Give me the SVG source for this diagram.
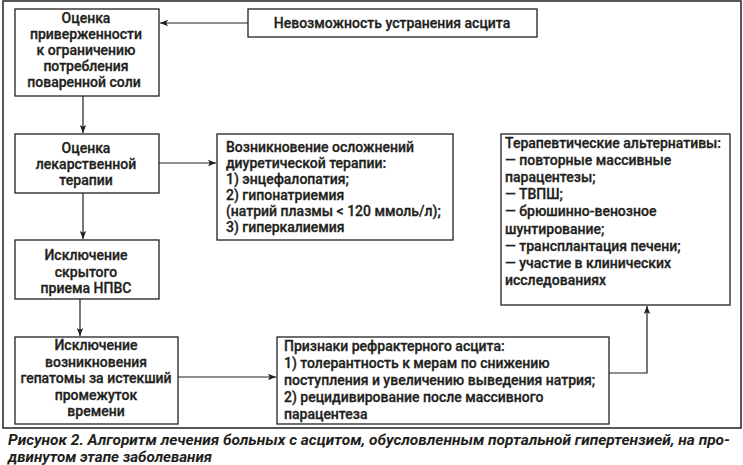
<svg xmlns="http://www.w3.org/2000/svg" width="743" height="465" viewBox="0 0 743 465">
<style>
.box{fill:#fff;stroke:#231f20;stroke-width:1.3}
.t{font-family:Roboto,"Liberation Sans",sans-serif;font-weight:500;font-size:14px;fill:#231f20;stroke:#231f20;stroke-width:0.3}
.c{text-anchor:middle}
.ln{fill:none;stroke:#231f20;stroke-width:1.2}
.cap{font-family:Roboto,"Liberation Sans",sans-serif;font-weight:700;font-style:italic;font-size:14px;fill:#231f20}
</style>
<defs>
<marker id="ah" viewBox="0 0 8 8" refX="8" refY="4" markerWidth="8" markerHeight="8" markerUnits="userSpaceOnUse" orient="auto">
<path d="M0,0.8 L8,4 L0,7.2 L1.8,4 Z" fill="#231f20"/>
</marker>
</defs>
<rect x="3" y="1" width="738" height="427" fill="#fff" stroke="#231f20" stroke-width="1.5"/>
<g id="connectors">
<path class="ln" d="M248,23 H160" marker-end="url(#ah)"/>
<path class="ln" d="M83,96 V133" marker-end="url(#ah)"/>
<path class="ln" d="M159,163 H216" marker-end="url(#ah)"/>
<path class="ln" d="M83,193 V239" marker-end="url(#ah)"/>
<path class="ln" d="M80,299 V336" marker-end="url(#ah)"/>
<path class="ln" d="M178,377 H276" marker-end="url(#ah)"/>
<path class="ln" d="M609,373 H647 V306" marker-end="url(#ah)"/>
</g>
<g id="n-nevozm">
<rect class="box" x="248" y="9" width="289" height="28"/>
<text class="t c" x="392" y="28">Невозможность устранения асцита</text>
</g>
<g id="n-ocenka1">
<rect class="box" x="15" y="9" width="144" height="87"/>
<text class="t c" x="86" y="23">Оценка</text>
<text class="t c" x="86" y="39">приверженности</text>
<text class="t c" x="86" y="55">к ограничению</text>
<text class="t c" x="86" y="71">потребления</text>
<text class="t c" x="84" y="87">поваренной соли</text>
</g>
<g id="n-ocenka2">
<rect class="box" x="15" y="134" width="144" height="59"/>
<text class="t c" x="86" y="153">Оценка</text>
<text class="t c" x="86" y="169">лекарственной</text>
<text class="t c" x="86" y="185">терапии</text>
</g>
<g id="n-oslozh">
<rect class="box" x="217" y="134" width="236" height="106"/>
<text class="t" x="226" y="152">Возникновение осложнений</text>
<text class="t" x="226" y="168">диуретической терапии:</text>
<text class="t" x="226" y="184">1) энцефалопатия;</text>
<text class="t" x="226" y="200">2) гипонатриемия</text>
<text class="t" x="226" y="216">(натрий плазмы &lt; 120 ммоль/л);</text>
<text class="t" x="226" y="232">3) гиперкалиемия</text>
</g>
<g id="n-nsaid">
<rect class="box" x="15" y="240" width="144" height="59"/>
<text class="t c" x="86" y="260">Исключение</text>
<text class="t c" x="86" y="276.5">скрытого</text>
<text class="t c" x="86" y="293">приема НПВС</text>
</g>
<g id="n-hepatoma">
<rect class="box" x="15" y="337" width="163" height="87"/>
<text class="t c" x="96" y="350">Исключение</text>
<text class="t c" x="96" y="366.5">возникновения</text>
<text class="t c" x="96" y="383">гепатомы за истекший</text>
<text class="t c" x="96" y="399.5">промежуток</text>
<text class="t c" x="96" y="416">времени</text>
</g>
<g id="n-refr">
<rect class="box" x="277" y="337" width="332" height="87"/>
<text class="t" x="284" y="351">Признаки рефрактерного асцита:</text>
<text class="t" x="284" y="368">1) толерантность к мерам по снижению</text>
<text class="t" x="284" y="385">поступления и увеличению выведения натрия;</text>
<text class="t" x="284" y="402">2) рецидивирование после массивного</text>
<text class="t" x="284" y="419">парацентеза</text>
</g>
<g id="n-alt">
<rect class="box" x="501" y="134" width="229" height="171"/>
<text class="t" x="505" y="147.5">Терапевтические альтернативы:</text>
<text class="t" x="505" y="164.7">—  повторные массивные</text>
<text class="t" x="505" y="181.9">парацентезы;</text>
<text class="t" x="505" y="199.1">—  ТВПШ;</text>
<text class="t" x="505" y="216.3">—  брюшинно-венозное</text>
<text class="t" x="505" y="233.5">шунтирование;</text>
<text class="t" x="505" y="250.7">—  трансплантация печени;</text>
<text class="t" x="505" y="267.9">—  участие в клинических</text>
<text class="t" x="505" y="285.1">исследованиях</text>
</g>
<g id="caption">
<text class="cap" x="8" y="445" textLength="722" lengthAdjust="spacingAndGlyphs">Рисунок 2. Алгоритм лечения больных с асцитом, обусловленным портальной гипертензией, на про-</text>
<text class="cap" x="8" y="462" textLength="204" lengthAdjust="spacingAndGlyphs">двинутом этапе заболевания</text>
</g>
</svg>
